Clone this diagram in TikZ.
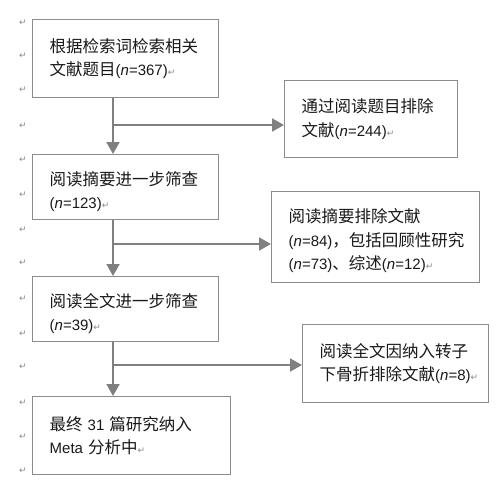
\documentclass[tikz,border=0pt]{standalone}
\usepackage{fontspec}
\setmainfont{Liberation Sans}
\newfontfamily\cjk{Noto Sans CJK SC}[Scale=1.1]
\newfontfamily\symf{DejaVu Sans}
\usetikzlibrary{arrows.meta}
\definecolor{linegray}{HTML}{808080}
\definecolor{boxgray}{HTML}{8C8C8C}
\definecolor{markgray}{HTML}{8A8A8A}
\newcommand{\parmark}{{\symf\fontsize{9}{9}\selectfont\color{markgray}↵}}
\newcommand{\nn}{\textit{n}}
\begin{document}
\begin{tikzpicture}[x=1pt,y=-1pt,
  box/.style={draw=boxgray,line width=1.4pt,inner xsep=17pt,inner ysep=0pt,
    align=left,anchor=north west,text=black!90,
    font=\fontsize{15}{23.5}\selectfont},
  flow/.style={draw=linegray,line width=2pt,-{Triangle[length=12pt,width=13pt]}},
  pmark/.style={inner sep=0pt}]
\useasboundingbox (0,0) rectangle (499,485);
\fill[white] (0,0) rectangle (499,485);
% boxes
\node[box,minimum width=184,minimum height=78,text width=152] (b1) at (32,19)
  {{\cjk 根据检索词检索相关}\\{\cjk 文献题目}(\nn=367)\parmark};
\node[box,minimum width=171,minimum height=77,text width=139] (b2) at (284,80)
  {{\cjk 通过阅读题目排除}\\{\cjk 文献}(\nn=244)\parmark};
\node[box,minimum width=184,minimum height=65,text width=152] (b3) at (32,154)
  {\rule{0pt}{23pt}{\cjk 阅读摘要进一步筛查}\\(\nn=123)\parmark};
\node[box,minimum width=206,minimum height=91,text width=174] (b4) at (271,191)
  {\rule{0pt}{21pt}{\cjk 阅读摘要排除文献}\\(\nn=84){\cjk ，包括回顾性研究}\\(\nn=73){\cjk 、综述}(\nn=12)\parmark};
\node[box,minimum width=184,minimum height=65,text width=152] (b5) at (32,276)
  {\rule{0pt}{23pt}{\cjk 阅读全文进一步筛查}\\(\nn=39)\parmark};
\node[box,minimum width=184,minimum height=78,text width=152] (b6) at (302,324)
  {{\cjk 阅读全文因纳入转子}\\{\cjk 下骨折排除文献}(\nn=8)\parmark};
\node[box,minimum width=196,minimum height=78,text width=164] (b7) at (32,396)
  {{\cjk 最终} 31 {\cjk 篇研究纳入}\\Meta {\cjk 分析中}\parmark};
% connectors
\coordinate (v) at (113,0);
\coordinate (j1) at (113,125);
\coordinate (j2) at (113,244);
\coordinate (j3) at (113,365);
\draw[flow] (b1.south -| v) -- (b3.north -| v);
\draw[flow] (b3.south -| v) -- (b5.north -| v);
\draw[flow] (b5.south -| v) -- (b7.north -| v);
\draw[flow] (j1) -- (j1 -| b2.west);
\draw[flow] (j2) -- (j2 -| b4.west);
\draw[flow] (j3) -- (j3 -| b6.west);
% paragraph marks
\foreach \y [count=\i] in {23,56,90,126,160,195,230,263,299,334,367,403,437,471}
  \node[pmark] (pm\i) at (23,\y) {\parmark};
\end{tikzpicture}
\end{document}
